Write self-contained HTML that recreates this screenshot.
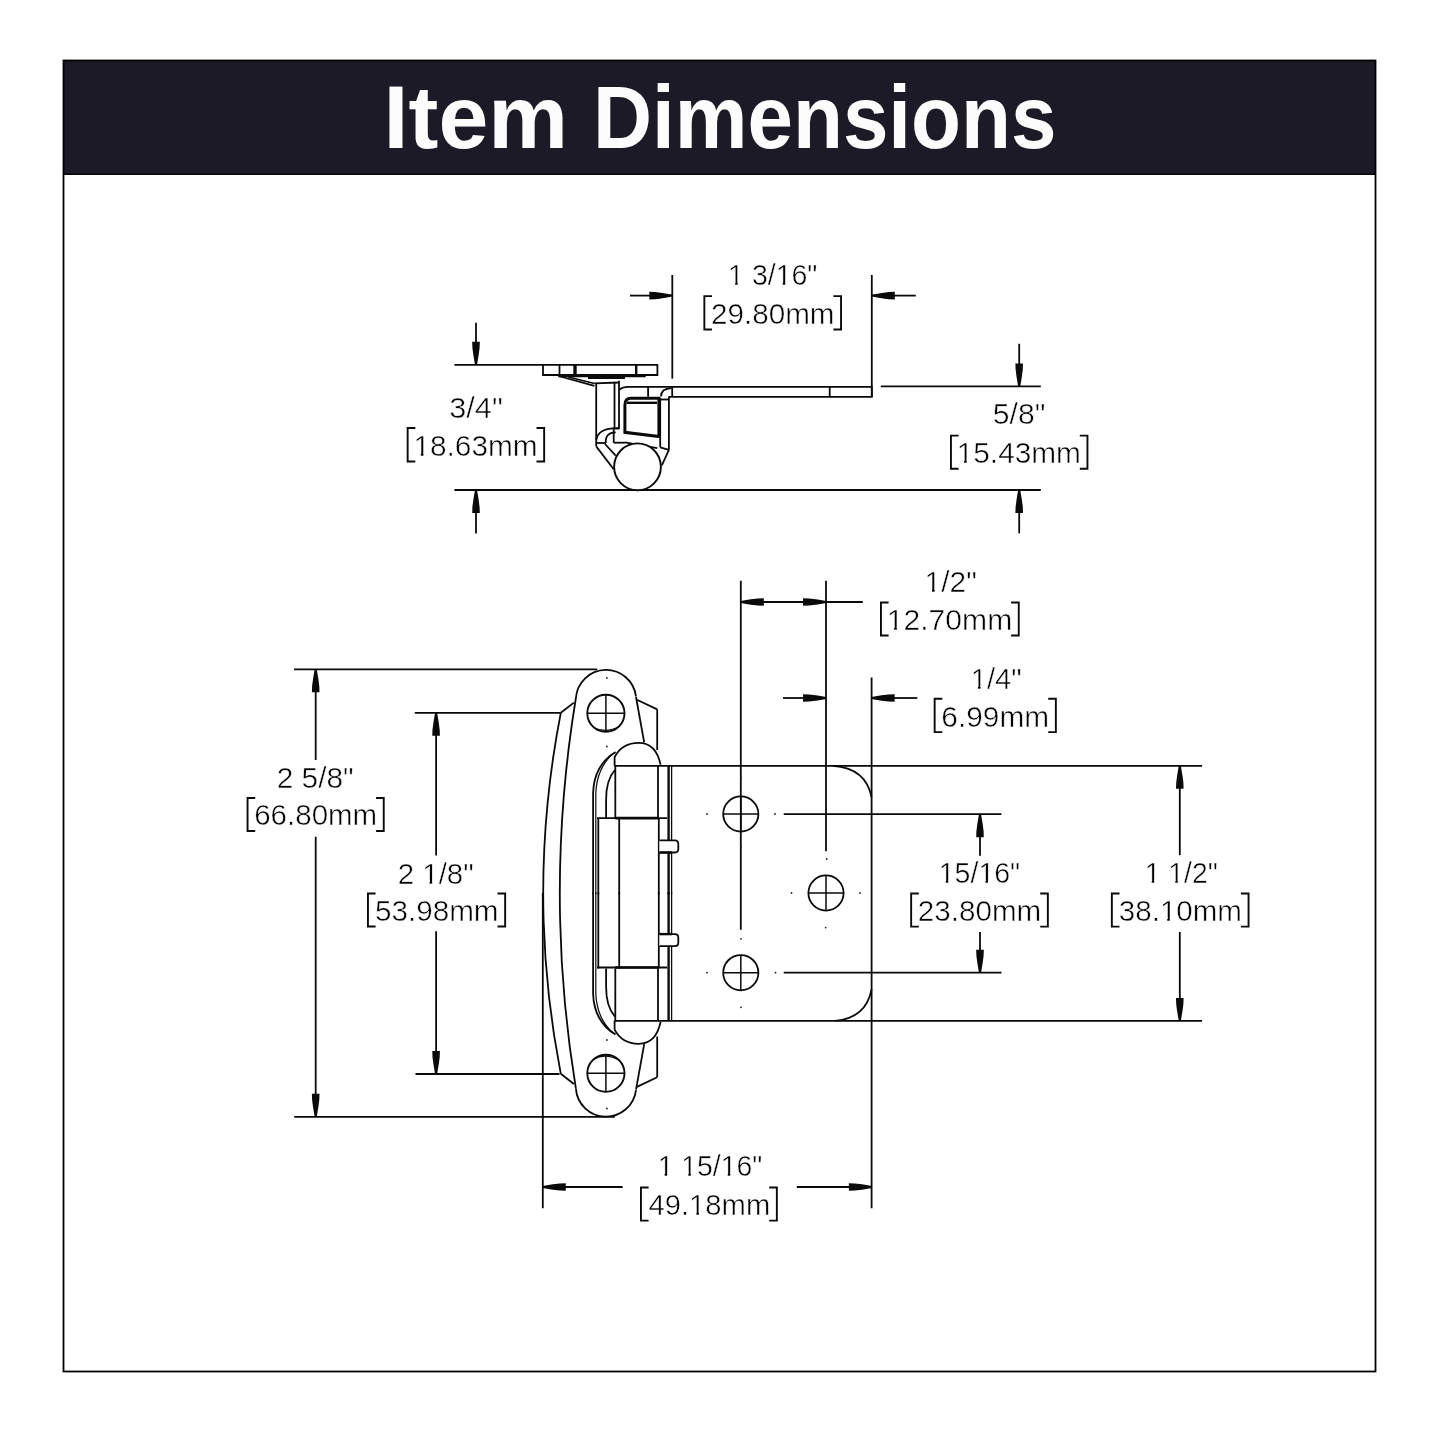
<!DOCTYPE html>
<html><head><meta charset="utf-8"><style>
html,body{margin:0;padding:0;background:#fff;width:1445px;height:1445px;overflow:hidden}
svg{position:absolute;left:0;top:0;font-family:"Liberation Sans",sans-serif;will-change:transform}
</style></head><body>
<svg width="1445" height="1445" viewBox="0 0 1445 1445">
<g stroke="#0a0a0a" fill="none" stroke-linecap="butt">
<rect x="63" y="60" width="1313" height="115" fill="#1b1a26" stroke="none"/>
<rect x="63.5" y="60.5" width="1312" height="1311" fill="none" stroke="#000" stroke-width="1.8"/>
<line x1="63" y1="174.2" x2="1376" y2="174.2" stroke="#050508" stroke-width="1.6"/>
<g transform="translate(383.62,147.70) scale(1.0095,1)"><text font-size="88.84" font-weight="bold" fill="#fcfcfc" stroke="none" stroke-width="0.5">Item</text></g>
<g transform="translate(593.08,147.70) scale(0.9203,1)"><text font-size="88.84" font-weight="bold" fill="#fcfcfc" stroke="none" stroke-width="0.5">Dimensions</text></g>
<line x1="454.40" y1="364.80" x2="543.00" y2="364.80" stroke-width="1.8"/>
<line x1="454.40" y1="490.00" x2="1040.80" y2="490.00" stroke-width="1.8"/>
<line x1="880.80" y1="386.40" x2="1040.80" y2="386.40" stroke-width="1.8"/>
<line x1="672.30" y1="275.00" x2="672.30" y2="378.70" stroke-width="1.8"/>
<line x1="871.80" y1="275.00" x2="871.80" y2="396.80" stroke-width="1.8"/>
<line x1="476.00" y1="322.70" x2="476.00" y2="350.00" stroke-width="1.8"/>
<polygon points="479.80,341.80 479.60,347.80 478.70,354.80 477.70,360.80 477.00,364.80 475.00,364.80 474.30,360.80 473.30,354.80 472.40,347.80 472.20,341.80" stroke="none" fill="#0a0a0a"/>
<line x1="476.00" y1="505.00" x2="476.00" y2="533.50" stroke-width="1.8"/>
<polygon points="479.80,513.00 479.60,507.00 478.70,500.00 477.70,494.00 477.00,490.00 475.00,490.00 474.30,494.00 473.30,500.00 472.40,507.00 472.20,513.00" stroke="none" fill="#0a0a0a"/>
<line x1="1019.20" y1="343.80" x2="1019.20" y2="370.00" stroke-width="1.8"/>
<polygon points="1023.00,363.40 1022.80,369.40 1021.90,376.40 1020.90,382.40 1020.20,386.40 1018.20,386.40 1017.50,382.40 1016.50,376.40 1015.60,369.40 1015.40,363.40" stroke="none" fill="#0a0a0a"/>
<line x1="1019.20" y1="505.00" x2="1019.20" y2="533.30" stroke-width="1.8"/>
<polygon points="1023.00,513.00 1022.80,507.00 1021.90,500.00 1020.90,494.00 1020.20,490.00 1018.20,490.00 1017.50,494.00 1016.50,500.00 1015.60,507.00 1015.40,513.00" stroke="none" fill="#0a0a0a"/>
<line x1="630.00" y1="295.60" x2="660.00" y2="295.60" stroke-width="1.8"/>
<polygon points="649.30,299.40 655.30,299.20 662.30,298.30 668.30,297.30 672.30,296.60 672.30,294.60 668.30,293.90 662.30,292.90 655.30,292.00 649.30,291.80" stroke="none" fill="#0a0a0a"/>
<line x1="885.00" y1="295.60" x2="915.80" y2="295.60" stroke-width="1.8"/>
<polygon points="894.80,299.40 888.80,299.20 881.80,298.30 875.80,297.30 871.80,296.60 871.80,294.60 875.80,293.90 881.80,292.90 888.80,292.00 894.80,291.80" stroke="none" fill="#0a0a0a"/>
<g transform="translate(728.12,285.00) scale(0.9641,1)"><text font-size="29.57"  fill="#000" stroke="#fff" stroke-width="0.5">1 3/16&quot;</text><rect x="0.89" y="-2.96" width="6.42" height="4.73" fill="#fff" stroke="none"/><rect x="9.96" y="-2.96" width="5.91" height="4.73" fill="#fff" stroke="none"/><rect x="50.20" y="-2.96" width="6.42" height="4.73" fill="#fff" stroke="none"/><rect x="59.28" y="-2.96" width="5.91" height="4.73" fill="#fff" stroke="none"/></g>
<path d="M712.00,296.15 H704.35 V329.55 H712.00" stroke-width="1.9" fill="none"/>
<path d="M833.40,296.15 H841.05 V329.55 H833.40" stroke-width="1.9" fill="none"/>
<g transform="translate(711.02,323.90) scale(1.0071,1)"><text font-size="29.42"  fill="#000" stroke="#fff" stroke-width="0.5">29.80mm</text></g>
<g transform="translate(449.27,418.20) scale(1.0371,1)"><text font-size="29.57"  fill="#000" stroke="#fff" stroke-width="0.5">3/4&quot;</text></g>
<path d="M415.30,427.95 H407.65 V461.45 H415.30" stroke-width="1.9" fill="none"/>
<path d="M536.50,427.95 H544.15 V461.45 H536.50" stroke-width="1.9" fill="none"/>
<g transform="translate(413.42,455.80) scale(1.0129,1)"><text font-size="29.42"  fill="#000" stroke="#fff" stroke-width="0.5">18.63mm</text><rect x="0.88" y="-2.94" width="6.38" height="4.71" fill="#fff" stroke="none"/><rect x="9.91" y="-2.94" width="5.88" height="4.71" fill="#fff" stroke="none"/></g>
<g transform="translate(992.80,424.30) scale(1.0188,1)"><text font-size="29.57"  fill="#000" stroke="#fff" stroke-width="0.5">5/8&quot;</text></g>
<path d="M958.60,435.65 H950.95 V468.75 H958.60" stroke-width="1.9" fill="none"/>
<path d="M1079.80,435.65 H1087.45 V468.75 H1079.80" stroke-width="1.9" fill="none"/>
<g transform="translate(956.72,463.10) scale(1.0129,1)"><text font-size="29.42"  fill="#000" stroke="#fff" stroke-width="0.5">15.43mm</text><rect x="0.88" y="-2.94" width="6.38" height="4.71" fill="#fff" stroke="none"/><rect x="9.91" y="-2.94" width="5.88" height="4.71" fill="#fff" stroke="none"/></g>
<path d="M543,364.8 H657.4 V375 H543 Z" stroke-width="1.8" fill="none"/>
<line x1="559.50" y1="364.80" x2="559.50" y2="375.00" stroke-width="1.8"/>
<line x1="575.00" y1="364.80" x2="575.00" y2="375.00" stroke-width="3.4"/>
<line x1="636.20" y1="364.80" x2="636.20" y2="375.00" stroke-width="2.4"/>
<line x1="558.40" y1="376.20" x2="645.70" y2="376.20" stroke-width="2.2"/>
<line x1="588.00" y1="377.80" x2="625.00" y2="377.80" stroke-width="2.4"/>
<line x1="558.40" y1="376.00" x2="594.40" y2="385.80" stroke-width="1.8"/>
<line x1="568.30" y1="377.00" x2="594.40" y2="383.50" stroke-width="1.8"/>
<line x1="594.40" y1="383.30" x2="619.00" y2="382.50" stroke-width="1.8"/>
<line x1="596.20" y1="383.30" x2="596.20" y2="446.40" stroke-width="1.8"/>
<line x1="614.50" y1="383.00" x2="614.50" y2="428.20" stroke-width="1.8"/>
<line x1="619.00" y1="380.80" x2="619.00" y2="429.00" stroke-width="1.8"/>
<line x1="614.50" y1="428.60" x2="619.00" y2="428.60" stroke-width="1.8"/>
<line x1="613.70" y1="428.20" x2="613.70" y2="442.70" stroke-width="1.8"/>
<line x1="596.20" y1="443.00" x2="606.00" y2="443.00" stroke-width="1.8"/>
<line x1="613.70" y1="442.70" x2="624.90" y2="442.70" stroke-width="1.8"/>
<path d="M596.2,440 Q598,428 618,428.2" stroke-width="1.8" fill="none"/>
<path d="M605.8,443.1 Q605,432.5 615.7,432.3" stroke-width="1.8" fill="none"/>
<line x1="596.20" y1="446.40" x2="613.70" y2="469.30" stroke-width="1.8"/>
<line x1="605.00" y1="444.00" x2="615.70" y2="455.60" stroke-width="1.8"/>
<path d="M619.9,390 Q621,386.9 629,386.9 H871.8 V396.8 H668.9" stroke-width="1.8" fill="none"/>
<line x1="648.10" y1="386.90" x2="648.10" y2="396.80" stroke-width="1.8"/>
<line x1="672.20" y1="386.90" x2="672.20" y2="396.80" stroke-width="1.8"/>
<line x1="829.70" y1="386.90" x2="829.70" y2="396.80" stroke-width="1.8"/>
<path d="M661,396.5 Q661,388.7 671.4,388.2" stroke-width="1.8" fill="none"/>
<line x1="660.20" y1="399.50" x2="668.90" y2="399.50" stroke-width="1.8"/>
<path d="M624.9,405 Q625,398.3 631,398.3 H658.9 V436.5 L624.9,432.3 Z" stroke-width="3.0" fill="none"/>
<line x1="627.00" y1="402.80" x2="657.00" y2="402.80" stroke-width="2.4"/>
<line x1="624.90" y1="442.30" x2="657.30" y2="448.10" stroke-width="1.8"/>
<line x1="660.20" y1="398.00" x2="660.20" y2="447.30" stroke-width="1.8"/>
<line x1="668.90" y1="396.60" x2="668.90" y2="449.80" stroke-width="1.8"/>
<line x1="660.20" y1="447.30" x2="668.90" y2="449.80" stroke-width="1.8"/>
<line x1="668.90" y1="449.80" x2="661.80" y2="465.50" stroke-width="1.8"/>
<circle cx="637.5" cy="466.8" r="23.4" fill="#fff" stroke-width="1.9"/>
<line x1="740.80" y1="580.80" x2="740.80" y2="929.80" stroke-width="1.8"/>
<line x1="826.00" y1="580.80" x2="826.00" y2="851.30" stroke-width="1.8"/>
<line x1="871.60" y1="677.60" x2="871.60" y2="1208.20" stroke-width="1.8"/>
<polygon points="763.80,605.80 757.80,605.60 750.80,604.70 744.80,603.70 740.80,603.00 740.80,601.00 744.80,600.30 750.80,599.30 757.80,598.40 763.80,598.20" stroke="none" fill="#0a0a0a"/>
<line x1="763.00" y1="602.00" x2="803.00" y2="602.00" stroke-width="1.8"/>
<polygon points="803.00,605.80 809.00,605.60 816.00,604.70 822.00,603.70 826.00,603.00 826.00,601.00 822.00,600.30 816.00,599.30 809.00,598.40 803.00,598.20" stroke="none" fill="#0a0a0a"/>
<line x1="826.00" y1="602.00" x2="862.80" y2="602.00" stroke-width="1.8"/>
<line x1="783.00" y1="698.00" x2="806.00" y2="698.00" stroke-width="1.8"/>
<polygon points="803.00,701.80 809.00,701.60 816.00,700.70 822.00,699.70 826.00,699.00 826.00,697.00 822.00,696.30 816.00,695.30 809.00,694.40 803.00,694.20" stroke="none" fill="#0a0a0a"/>
<polygon points="894.60,701.80 888.60,701.60 881.60,700.70 875.60,699.70 871.60,699.00 871.60,697.00 875.60,696.30 881.60,695.30 888.60,694.40 894.60,694.20" stroke="none" fill="#0a0a0a"/>
<line x1="890.00" y1="698.00" x2="917.30" y2="698.00" stroke-width="1.8"/>
<g transform="translate(924.61,591.80) scale(1.0105,1)"><text font-size="29.57"  fill="#000" stroke="#fff" stroke-width="0.5">1/2&quot;</text><rect x="0.89" y="-2.96" width="6.42" height="4.73" fill="#fff" stroke="none"/><rect x="9.96" y="-2.96" width="5.91" height="4.73" fill="#fff" stroke="none"/></g>
<path d="M888.60,602.45 H880.95 V635.45 H888.60" stroke-width="1.9" fill="none"/>
<path d="M1011.10,602.45 H1018.75 V635.45 H1011.10" stroke-width="1.9" fill="none"/>
<g transform="translate(886.69,629.80) scale(1.0239,1)"><text font-size="29.42"  fill="#000" stroke="#fff" stroke-width="0.5">12.70mm</text><rect x="0.88" y="-2.94" width="6.38" height="4.71" fill="#fff" stroke="none"/><rect x="9.91" y="-2.94" width="5.88" height="4.71" fill="#fff" stroke="none"/></g>
<g transform="translate(970.66,688.90) scale(0.9897,1)"><text font-size="29.57"  fill="#000" stroke="#fff" stroke-width="0.5">1/4&quot;</text><rect x="0.89" y="-2.96" width="6.42" height="4.73" fill="#fff" stroke="none"/><rect x="9.96" y="-2.96" width="5.91" height="4.73" fill="#fff" stroke="none"/></g>
<path d="M942.30,698.75 H934.65 V732.15 H942.30" stroke-width="1.9" fill="none"/>
<path d="M1048.20,698.75 H1055.85 V732.15 H1048.20" stroke-width="1.9" fill="none"/>
<g transform="translate(941.31,726.50) scale(1.0148,1)"><text font-size="29.42"  fill="#000" stroke="#fff" stroke-width="0.5">6.99mm</text></g>
<line x1="294.00" y1="669.30" x2="597.20" y2="669.30" stroke-width="1.8"/>
<line x1="414.80" y1="712.80" x2="560.80" y2="712.80" stroke-width="1.8"/>
<line x1="294.20" y1="1116.80" x2="614.80" y2="1116.80" stroke-width="1.8"/>
<line x1="415.50" y1="1074.00" x2="559.40" y2="1074.00" stroke-width="1.8"/>
<polygon points="319.50,692.30 319.30,686.30 318.40,679.30 317.40,673.30 316.70,669.30 314.70,669.30 314.00,673.30 313.00,679.30 312.10,686.30 311.90,692.30" stroke="none" fill="#0a0a0a"/>
<line x1="315.70" y1="685.00" x2="315.70" y2="760.00" stroke-width="1.8"/>
<line x1="315.70" y1="836.80" x2="315.70" y2="1100.00" stroke-width="1.8"/>
<polygon points="319.50,1093.80 319.30,1099.80 318.40,1106.80 317.40,1112.80 316.70,1116.80 314.70,1116.80 314.00,1112.80 313.00,1106.80 312.10,1099.80 311.90,1093.80" stroke="none" fill="#0a0a0a"/>
<polygon points="439.90,735.80 439.70,729.80 438.80,722.80 437.80,716.80 437.10,712.80 435.10,712.80 434.40,716.80 433.40,722.80 432.50,729.80 432.30,735.80" stroke="none" fill="#0a0a0a"/>
<line x1="436.10" y1="730.00" x2="436.10" y2="855.50" stroke-width="1.8"/>
<line x1="436.10" y1="931.30" x2="436.10" y2="1058.00" stroke-width="1.8"/>
<polygon points="439.90,1051.00 439.70,1057.00 438.80,1064.00 437.80,1070.00 437.10,1074.00 435.10,1074.00 434.40,1070.00 433.40,1064.00 432.50,1057.00 432.30,1051.00" stroke="none" fill="#0a0a0a"/>
<g transform="translate(276.71,788.00) scale(1.0093,1)"><text font-size="29.57"  fill="#000" stroke="#fff" stroke-width="0.5">2 5/8&quot;</text></g>
<path d="M255.20,797.95 H247.55 V831.05 H255.20" stroke-width="1.9" fill="none"/>
<path d="M376.10,797.95 H383.75 V831.05 H376.10" stroke-width="1.9" fill="none"/>
<g transform="translate(254.22,825.40) scale(1.0029,1)"><text font-size="29.42"  fill="#000" stroke="#fff" stroke-width="0.5">66.80mm</text></g>
<g transform="translate(397.73,883.50) scale(0.9957,1)"><text font-size="29.57"  fill="#000" stroke="#fff" stroke-width="0.5">2 1/8&quot;</text><rect x="25.54" y="-2.96" width="6.42" height="4.73" fill="#fff" stroke="none"/><rect x="34.62" y="-2.96" width="5.91" height="4.73" fill="#fff" stroke="none"/></g>
<path d="M375.60,893.45 H367.95 V926.55 H375.60" stroke-width="1.9" fill="none"/>
<path d="M497.50,893.45 H505.15 V926.55 H497.50" stroke-width="1.9" fill="none"/>
<g transform="translate(374.91,920.90) scale(1.0088,1)"><text font-size="29.42"  fill="#000" stroke="#fff" stroke-width="0.5">53.98mm</text></g>
<line x1="871.60" y1="765.80" x2="1202.10" y2="765.80" stroke-width="1.8"/>
<line x1="871.60" y1="1020.90" x2="1202.10" y2="1020.90" stroke-width="1.8"/>
<line x1="783.70" y1="814.20" x2="1001.50" y2="814.20" stroke-width="1.8"/>
<line x1="783.70" y1="972.70" x2="1001.50" y2="972.70" stroke-width="1.8"/>
<polygon points="983.80,837.20 983.60,831.20 982.70,824.20 981.70,818.20 981.00,814.20 979.00,814.20 978.30,818.20 977.30,824.20 976.40,831.20 976.20,837.20" stroke="none" fill="#0a0a0a"/>
<line x1="980.00" y1="830.00" x2="980.00" y2="855.70" stroke-width="1.8"/>
<line x1="980.00" y1="932.00" x2="980.00" y2="957.00" stroke-width="1.8"/>
<polygon points="983.80,949.70 983.60,955.70 982.70,962.70 981.70,968.70 981.00,972.70 979.00,972.70 978.30,968.70 977.30,962.70 976.40,955.70 976.20,949.70" stroke="none" fill="#0a0a0a"/>
<polygon points="1183.60,788.80 1183.40,782.80 1182.50,775.80 1181.50,769.80 1180.80,765.80 1178.80,765.80 1178.10,769.80 1177.10,775.80 1176.20,782.80 1176.00,788.80" stroke="none" fill="#0a0a0a"/>
<line x1="1179.80" y1="780.00" x2="1179.80" y2="855.20" stroke-width="1.8"/>
<line x1="1179.80" y1="932.00" x2="1179.80" y2="1005.00" stroke-width="1.8"/>
<polygon points="1183.60,997.90 1183.40,1003.90 1182.50,1010.90 1181.50,1016.90 1180.80,1020.90 1178.80,1020.90 1178.10,1016.90 1177.10,1010.90 1176.20,1003.90 1176.00,997.90" stroke="none" fill="#0a0a0a"/>
<g transform="translate(938.72,882.80) scale(0.9651,1)"><text font-size="29.57"  fill="#000" stroke="#fff" stroke-width="0.5">15/16&quot;</text><rect x="0.89" y="-2.96" width="6.42" height="4.73" fill="#fff" stroke="none"/><rect x="9.96" y="-2.96" width="5.91" height="4.73" fill="#fff" stroke="none"/><rect x="41.98" y="-2.96" width="6.42" height="4.73" fill="#fff" stroke="none"/><rect x="51.06" y="-2.96" width="5.91" height="4.73" fill="#fff" stroke="none"/></g>
<path d="M918.80,893.45 H911.15 V926.65 H918.80" stroke-width="1.9" fill="none"/>
<path d="M1040.20,893.45 H1047.85 V926.65 H1040.20" stroke-width="1.9" fill="none"/>
<g transform="translate(917.82,921.00) scale(1.0071,1)"><text font-size="29.42"  fill="#000" stroke="#fff" stroke-width="0.5">23.80mm</text></g>
<g transform="translate(1144.74,882.80) scale(0.9570,1)"><text font-size="29.57"  fill="#000" stroke="#fff" stroke-width="0.5">1 1/2&quot;</text><rect x="0.89" y="-2.96" width="6.42" height="4.73" fill="#fff" stroke="none"/><rect x="9.96" y="-2.96" width="5.91" height="4.73" fill="#fff" stroke="none"/><rect x="25.54" y="-2.96" width="6.42" height="4.73" fill="#fff" stroke="none"/><rect x="34.62" y="-2.96" width="5.91" height="4.73" fill="#fff" stroke="none"/></g>
<path d="M1119.50,893.45 H1111.85 V926.65 H1119.50" stroke-width="1.9" fill="none"/>
<path d="M1240.90,893.45 H1248.55 V926.65 H1240.90" stroke-width="1.9" fill="none"/>
<g transform="translate(1118.82,921.00) scale(1.0046,1)"><text font-size="29.42"  fill="#000" stroke="#fff" stroke-width="0.5">38.10mm</text><rect x="41.78" y="-2.94" width="6.38" height="4.71" fill="#fff" stroke="none"/><rect x="50.81" y="-2.94" width="5.88" height="4.71" fill="#fff" stroke="none"/></g>
<line x1="542.80" y1="893.00" x2="542.80" y2="1208.20" stroke-width="1.8"/>
<polygon points="565.80,1190.80 559.80,1190.60 552.80,1189.70 546.80,1188.70 542.80,1188.00 542.80,1186.00 546.80,1185.30 552.80,1184.30 559.80,1183.40 565.80,1183.20" stroke="none" fill="#0a0a0a"/>
<line x1="560.00" y1="1187.00" x2="622.70" y2="1187.00" stroke-width="1.8"/>
<line x1="796.80" y1="1187.00" x2="860.00" y2="1187.00" stroke-width="1.8"/>
<polygon points="848.90,1190.80 854.90,1190.60 861.90,1189.70 867.90,1188.70 871.90,1188.00 871.90,1186.00 867.90,1185.30 861.90,1184.30 854.90,1183.40 848.90,1183.20" stroke="none" fill="#0a0a0a"/>
<g transform="translate(657.63,1175.80) scale(0.9598,1)"><text font-size="29.57"  fill="#000" stroke="#fff" stroke-width="0.5">1 15/16&quot;</text><rect x="0.89" y="-2.96" width="6.42" height="4.73" fill="#fff" stroke="none"/><rect x="9.96" y="-2.96" width="5.91" height="4.73" fill="#fff" stroke="none"/><rect x="25.54" y="-2.96" width="6.42" height="4.73" fill="#fff" stroke="none"/><rect x="34.62" y="-2.96" width="5.91" height="4.73" fill="#fff" stroke="none"/><rect x="66.64" y="-2.96" width="6.42" height="4.73" fill="#fff" stroke="none"/><rect x="75.72" y="-2.96" width="5.91" height="4.73" fill="#fff" stroke="none"/></g>
<path d="M648.60,1187.45 H640.95 V1220.65 H648.60" stroke-width="1.9" fill="none"/>
<path d="M769.20,1187.45 H776.85 V1220.65 H769.20" stroke-width="1.9" fill="none"/>
<g transform="translate(648.52,1215.00) scale(0.9930,1)"><text font-size="29.42"  fill="#000" stroke="#fff" stroke-width="0.5">49.18mm</text><rect x="41.78" y="-2.94" width="6.38" height="4.71" fill="#fff" stroke="none"/><rect x="50.81" y="-2.94" width="5.88" height="4.71" fill="#fff" stroke="none"/></g>
<line x1="597.00" y1="818.10" x2="667.20" y2="818.10" stroke-width="1.8"/>
<line x1="615.30" y1="818.10" x2="658.50" y2="818.10" stroke-width="2.6"/>
<line x1="597.00" y1="967.50" x2="667.20" y2="967.50" stroke-width="1.8"/>
<line x1="615.30" y1="967.50" x2="658.50" y2="967.50" stroke-width="2.6"/>
<path d="M560.8,712.8 Q525.6,893.3 560.8,1073.8" stroke-width="1.8" fill="none"/>
<path d="M575.9,698 Q543.7,893.3 575.9,1088.6" stroke-width="1.8" fill="none"/>
<path d="M575.9,698 A30.2,30.2 0 0 1 636,696.5" stroke-width="1.8" fill="none"/><line x1="573.90" y1="702.60" x2="560.80" y2="712.80" stroke-width="1.8"/><line x1="636.00" y1="697.00" x2="644.20" y2="742.40" stroke-width="1.8"/><line x1="636.90" y1="699.70" x2="657.20" y2="709.40" stroke-width="1.8"/><line x1="657.20" y1="709.40" x2="657.20" y2="750.10" stroke-width="1.8"/><circle cx="605.9" cy="713.3" r="18.6" fill="none" stroke-width="1.9"/><path d="M593.5,727.5 Q606,734 620,726" stroke-width="1.2" fill="none"/><line x1="587.30" y1="713.30" x2="624.50" y2="713.30" stroke-width="1.5"/><line x1="605.90" y1="694.70" x2="605.90" y2="731.90" stroke-width="1.5"/><path d="M614.6,765.8 V757 Q622,742.8 638.8,742.8 Q656,742.8 660.6,764.7" stroke-width="1.8" fill="none"/><line x1="614.40" y1="765.80" x2="871.60" y2="765.80" stroke-width="1.8"/><line x1="615.30" y1="765.80" x2="615.30" y2="818.10" stroke-width="1.8"/><line x1="658.00" y1="765.80" x2="658.00" y2="818.10" stroke-width="1.8"/><line x1="598.30" y1="818.10" x2="598.30" y2="894.30" stroke-width="1.8"/><line x1="619.20" y1="818.10" x2="619.20" y2="894.30" stroke-width="1.8"/><line x1="658.80" y1="818.10" x2="658.80" y2="894.30" stroke-width="1.8"/><line x1="668.60" y1="765.80" x2="668.60" y2="894.30" stroke-width="2.4"/><line x1="671.60" y1="765.80" x2="671.60" y2="894.30" stroke-width="1.3"/><path d="M659.4,840.4 H675 Q678.3,840.4 678.3,844 V849 Q678.3,852.5 675,852.5 H659.4" stroke-width="1.8" fill="#fff"/><line x1="659.40" y1="852.50" x2="672.00" y2="852.50" stroke-width="2.4"/><path d="M615.6,752 Q594,765 593.1,793 V894.3" stroke-width="1.8" fill="none"/><path d="M612.6,754 Q597,768 595.8,793 V894.3" stroke-width="1.2" fill="none"/><path d="M614.9,770 Q606,780 606.1,800 V818.1" stroke-width="1.8" fill="none"/>
<g transform="translate(0,1786.60) scale(1,-1)"><path d="M575.9,698 A30.2,30.2 0 0 1 636,696.5" stroke-width="1.8" fill="none"/><line x1="573.90" y1="702.60" x2="560.80" y2="712.80" stroke-width="1.8"/><line x1="636.00" y1="697.00" x2="644.20" y2="742.40" stroke-width="1.8"/><line x1="636.90" y1="699.70" x2="657.20" y2="709.40" stroke-width="1.8"/><line x1="657.20" y1="709.40" x2="657.20" y2="750.10" stroke-width="1.8"/><circle cx="605.9" cy="713.3" r="18.6" fill="none" stroke-width="1.9"/><path d="M593.5,727.5 Q606,734 620,726" stroke-width="1.2" fill="none"/><line x1="587.30" y1="713.30" x2="624.50" y2="713.30" stroke-width="1.5"/><line x1="605.90" y1="694.70" x2="605.90" y2="731.90" stroke-width="1.5"/><path d="M614.6,765.8 V757 Q622,742.8 638.8,742.8 Q656,742.8 660.6,764.7" stroke-width="1.8" fill="none"/><line x1="614.40" y1="765.80" x2="871.60" y2="765.80" stroke-width="1.8"/><line x1="615.30" y1="765.80" x2="615.30" y2="818.10" stroke-width="1.8"/><line x1="658.00" y1="765.80" x2="658.00" y2="818.10" stroke-width="1.8"/><line x1="598.30" y1="818.10" x2="598.30" y2="894.30" stroke-width="1.8"/><line x1="619.20" y1="818.10" x2="619.20" y2="894.30" stroke-width="1.8"/><line x1="658.80" y1="818.10" x2="658.80" y2="894.30" stroke-width="1.8"/><line x1="668.60" y1="765.80" x2="668.60" y2="894.30" stroke-width="2.4"/><line x1="671.60" y1="765.80" x2="671.60" y2="894.30" stroke-width="1.3"/><path d="M659.4,840.4 H675 Q678.3,840.4 678.3,844 V849 Q678.3,852.5 675,852.5 H659.4" stroke-width="1.8" fill="#fff"/><line x1="659.40" y1="852.50" x2="672.00" y2="852.50" stroke-width="2.4"/><path d="M615.6,752 Q594,765 593.1,793 V894.3" stroke-width="1.8" fill="none"/><path d="M612.6,754 Q597,768 595.8,793 V894.3" stroke-width="1.2" fill="none"/><path d="M614.9,770 Q606,780 606.1,800 V818.1" stroke-width="1.8" fill="none"/></g>
<circle cx="740.8" cy="814.0" r="17.6" fill="none" stroke-width="1.8"/>
<line x1="723.20" y1="814.00" x2="758.40" y2="814.00" stroke-width="1.5"/>
<line x1="740.80" y1="796.40" x2="740.80" y2="831.60" stroke-width="1.5"/>
<circle cx="826" cy="893.0" r="17.6" fill="none" stroke-width="1.8"/>
<line x1="808.40" y1="893.00" x2="843.60" y2="893.00" stroke-width="1.5"/>
<line x1="826.00" y1="875.40" x2="826.00" y2="910.60" stroke-width="1.5"/>
<circle cx="740.8" cy="972.7" r="17.6" fill="none" stroke-width="1.8"/>
<line x1="723.20" y1="972.70" x2="758.40" y2="972.70" stroke-width="1.5"/>
<line x1="740.80" y1="955.10" x2="740.80" y2="990.30" stroke-width="1.5"/>
<path d="M832.9,765.8 Q866,768 871.6,797.4" stroke-width="1.8" fill="none"/>
<path d="M871.6,989.3 Q866,1018 835,1020.9" stroke-width="1.8" fill="none"/>
<circle cx="707" cy="814" r="0.9" fill="#222" stroke="none"/>
<circle cx="775" cy="814" r="0.9" fill="#222" stroke="none"/>
<circle cx="741" cy="847" r="0.9" fill="#222" stroke="none"/>
<circle cx="741" cy="778.5" r="0.9" fill="#222" stroke="none"/>
<circle cx="826.7" cy="859" r="0.9" fill="#222" stroke="none"/>
<circle cx="791.5" cy="893" r="0.9" fill="#222" stroke="none"/>
<circle cx="860" cy="893" r="0.9" fill="#222" stroke="none"/>
<circle cx="825.7" cy="927.6" r="0.9" fill="#222" stroke="none"/>
<circle cx="741" cy="938.8" r="0.9" fill="#222" stroke="none"/>
<circle cx="741" cy="1007.3" r="0.9" fill="#222" stroke="none"/>
<circle cx="707" cy="972.7" r="0.9" fill="#222" stroke="none"/>
<circle cx="775.5" cy="972.7" r="0.9" fill="#222" stroke="none"/>
<circle cx="606.9" cy="678" r="0.9" fill="#222" stroke="none"/>
<circle cx="606.9" cy="746.5" r="0.9" fill="#222" stroke="none"/>
<circle cx="606.9" cy="1040" r="0.9" fill="#222" stroke="none"/>
<circle cx="606.9" cy="1108.5" r="0.9" fill="#222" stroke="none"/>
</g></svg></body></html>
